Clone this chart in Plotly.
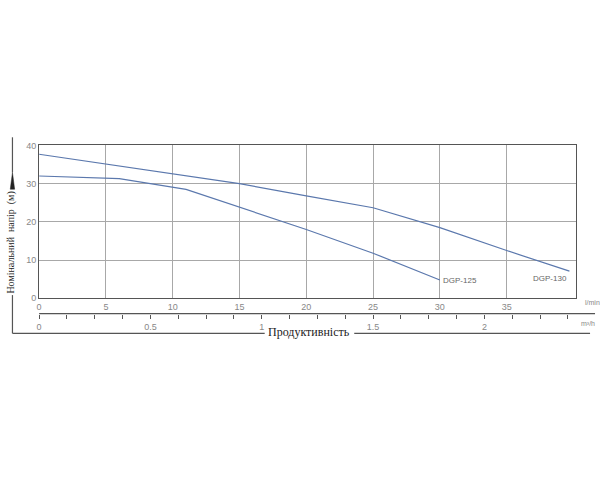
import plotly.graph_objects as go

# Data (flow l/min, head m)
q125 = [0, 6, 11, 15, 20, 25, 30]
h125 = [32.0, 31.3, 28.5, 23.9, 18.0, 11.8, 4.8]
q130 = [0, 5, 10, 15, 20, 25, 30, 35, 39.7]
h130 = [37.7, 35.1, 32.6, 30.0, 26.8, 23.7, 18.5, 12.5, 7.1]
names = ["DGP-125", "DGP-130"]

xmax = 40.2
L, R = 36.3 / 600, 576 / 600
yb, yt = 1 - 299.3 / 500, 1 - 143.3 / 500

line_col = "#5b78ad"
tick_font = dict(family="Liberation Sans, Arial", size=9, color="#888")

fig = go.Figure()
fig.add_trace(go.Scatter(x=q125, y=h125, mode="lines", line=dict(color=line_col, width=1.2), name=names[0]))
fig.add_trace(go.Scatter(x=q130, y=h130, mode="lines", line=dict(color=line_col, width=1.2), name=names[1]))
# invisible trace for second axis
fig.add_trace(go.Scatter(x=[0], y=[0], xaxis="x2", mode="markers", marker=dict(opacity=0), showlegend=False, hoverinfo="skip"))

m3h_vals = [i * 0.125 for i in range(20)]
m3h_text = [("%g" % v) if abs(v * 2 - round(v * 2)) < 1e-9 else "" for v in m3h_vals]

fig.update_layout(
    width=600, height=500, margin=dict(l=0, r=0, t=0, b=0),
    paper_bgcolor="white", plot_bgcolor="white", showlegend=False,
    xaxis=dict(domain=[L, R], range=[0, xmax], tickvals=[0, 5, 10, 15, 20, 25, 30, 35],
               showgrid=True, gridcolor="#a8a8a8", gridwidth=1, zeroline=False,
               showline=True, mirror=True, linecolor="#555", linewidth=1.3,
               ticks="", tickfont=tick_font, anchor="y"),
    yaxis=dict(domain=[yb, yt], range=[0, 40], tickvals=[0, 10, 20, 30, 40],
               showgrid=True, gridcolor="#a8a8a8", gridwidth=1, zeroline=False,
               showline=True, mirror=True, linecolor="#555", linewidth=1.3,
               ticks="", tickfont=tick_font, anchor="x"),
    xaxis2=dict(domain=[L, R], range=[0, xmax / (50 / 3)], overlaying="x", anchor="free",
                position=1 - 315 / 500, side="bottom", tickvals=m3h_vals, ticktext=m3h_text,
                ticks="outside", ticklen=4, tickcolor="#555", showgrid=False, zeroline=False,
                showline=False, tickfont=tick_font),
)

def pline(x0, y0, x1, y1):
    fig.add_shape(type="line", xref="paper", yref="paper", x0=x0 / 600, x1=x1 / 600,
                  y0=1 - y0 / 500, y1=1 - y1 / 500, line=dict(color="#555", width=1.2))

# secondary axis line (extends to the right like the reference)
pline(36.3, 315, 595, 315)
# bracket lines (broken around the titles)
pline(9.5, 135, 9.5, 171)
pline(9.5, 296, 9.5, 335)
pline(9.5, 335, 263, 335)
pline(353, 335, 590, 335)

# arrow wedge on the vertical bracket
def px(x, y):
    return "%f %f" % (x / 600, 1 - y / 500)
fig.add_shape(type="path", xref="paper", yref="paper",
              path="M %s L %s L %s Z" % (px(7.3, 188), px(11.7, 188), px(9.5, 171)),
              fillcolor="#222", line=dict(color="#222", width=0.5))

serif = "Liberation Serif, Times New Roman"
fig.add_annotation(xref="paper", yref="paper", x=308 / 600, y=1 - 334 / 500, xanchor="center", yanchor="middle",
                   text="Продуктивність", showarrow=False,
                   font=dict(family=serif, size=12, color="#222"))
fig.add_annotation(xref="paper", yref="paper", x=8.5 / 600, y=1 - 242 / 500, xanchor="center", yanchor="middle",
                   text="Номінальний  напір  (м)", textangle=-90, showarrow=False,
                   font=dict(family=serif, size=10, color="#222"))

# unit labels
fig.add_annotation(xref="paper", yref="paper", x=583 / 600, y=1 - 304 / 500, xanchor="left", yanchor="middle",
                   text="l/min", showarrow=False, font=dict(family="Liberation Sans", size=7, color="#888"))
fig.add_annotation(xref="paper", yref="paper", x=579 / 600, y=1 - 325 / 500, xanchor="left", yanchor="middle",
                   text="m³/h", showarrow=False, font=dict(family="Liberation Sans", size=7, color="#888"))

# curve labels
fig.add_annotation(x=q125[-1], y=h125[-1], xanchor="left", yanchor="middle", xshift=1, yshift=-1,
                   text=names[0], showarrow=False, font=dict(family="Liberation Sans", size=8, color="#666"))
fig.add_annotation(x=q130[-1], y=h130[-1], xanchor="right", yanchor="top", yshift=-1,
                   text=names[1], showarrow=False, font=dict(family="Liberation Sans", size=8, color="#666"))

fig.write_html("out.html")
